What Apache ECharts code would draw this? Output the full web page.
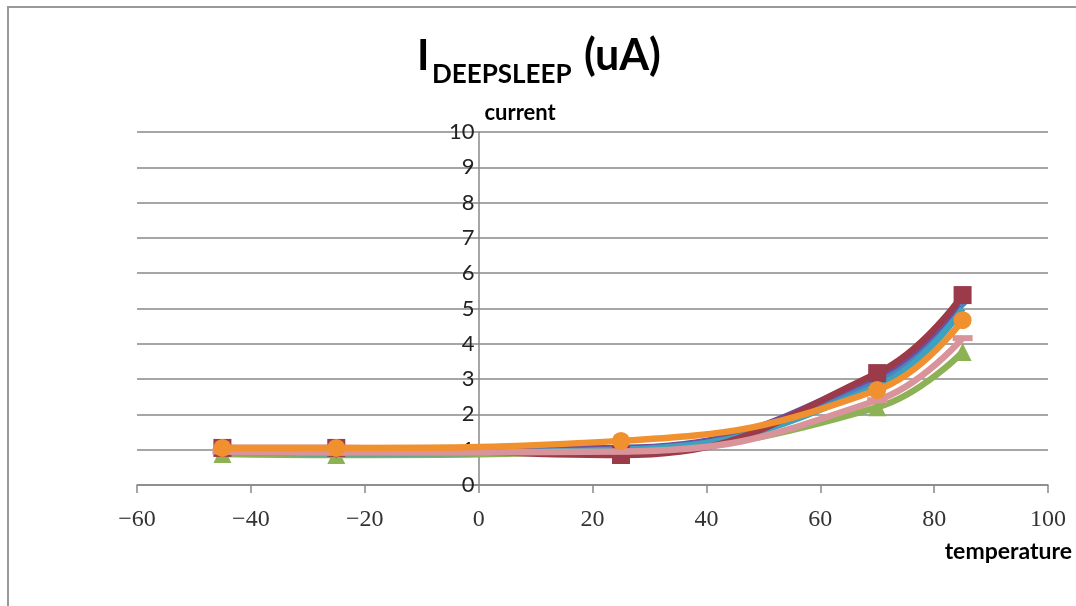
<!DOCTYPE html>
<html><head><meta charset="utf-8">
<script src="https://cdn.jsdelivr.net/npm/echarts@6/dist/echarts.min.js"></script>
<style>html,body{margin:0;padding:0;background:#fff}#c{width:1076px;height:606px}</style>
</head><body><div id="c"></div>
<script>
var temps = [-45, -25, 25, 70, 85];
var blueVals   = [1.00, 0.95, 1.00, 2.95, 5.20];
var maroonVals = [1.05, 1.05, 0.85, 3.17, 5.38];
var greenVals  = [0.88, 0.85, 1.00, 2.20, 3.77];
var purpleVals = [1.05, 1.02, 1.05, 3.10, 5.30];
var tealVals   = [0.95, 0.90, 1.00, 2.80, 5.00];
var pinkVals   = [0.95, 0.92, 0.95, 2.40, 4.16];
var orangeVals = [1.05, 1.05, 1.25, 2.69, 4.67];

function pts(v){ return temps.map(function(t,i){ return [t, v[i]]; }); }
function ser(name, vals, color, symbol, size, z){
  return {name:name, type:'line', smooth:0.45, data:pts(vals),
    symbol:symbol, symbolSize:size, showSymbol: symbol!=='none', z:z,
    lineStyle:{color:color, width:6.5}, itemStyle:{color:color}};
}
var chart = echarts.init(document.getElementById('c'));
chart.setOption({
  animation:false,
  grid:{left:137, right:28, top:132, bottom:121},
  graphic:[
    {type:'rect', shape:{x:8, y:7, width:1100, height:700}, style:{fill:'none', stroke:'#999', lineWidth:2}, silent:true},
    {type:'text', left:417, top:35, style:{text:'I', font:'bold 42px Lato', fill:'#000'}},
    {type:'text', left:432, top:62, style:{text:'DEEPSLEEP', font:'bold 26px Lato', fill:'#000'}},
    {type:'text', left:584, top:35, style:{text:'(uA)', font:'bold 43px Lato', fill:'#000'}}
  ],
  xAxis:{type:'value', min:-60, max:100, interval:20,
    name:'temperature', nameLocation:'end', nameGap:0,
    nameTextStyle:{fontFamily:'Lato', fontWeight:'bold', fontSize:23, color:'#000', align:'right', verticalAlign:'top', padding:[55,-24,0,0]},
    axisLine:{onZero:false, lineStyle:{color:'#888', width:1.5}},
    axisTick:{show:true, length:8, lineStyle:{color:'#888', width:1.5}},
    axisLabel:{fontFamily:'Liberation Serif', fontSize:24, color:'#333', margin:23,
      formatter:function(v){ return v<0 ? '\u2212'+Math.abs(v) : String(v); }},
    splitLine:{show:false}},
  yAxis:{type:'value', min:0, max:10, interval:1, offset:-341.5,
    name:'current', nameLocation:'end', nameGap:8,
    nameTextStyle:{fontFamily:'Lato', fontWeight:'bold', fontSize:22, color:'#000', align:'left', padding:[0,0,0,6]},
    axisLine:{show:true, onZero:false, lineStyle:{color:'#888', width:1.5}},
    axisTick:{show:false},
    axisLabel:{fontFamily:'Lato', fontSize:22, color:'#222', margin:4},
    splitLine:{show:true, lineStyle:{color:'#888', width:1.5}}},
  series:[
    ser('s1', blueVals, '#4F81BD', 'diamond', 14, 3),
    ser('s2', maroonVals, '#9B3B4A', 'rect', 18, 4),
    ser('s3', greenVals, '#8DB255', 'triangle', 18, 2),
    ser('s4', purpleVals, '#6E4E9E', 'none', 0, 3),
    ser('s5', tealVals, '#3DA2BF', 'none', 0, 3),
    ser('s6', pinkVals, '#D9939A', 'rect', [20,6], 5),
    ser('s7', orangeVals, '#F0902F', 'circle', 18, 6)
  ]
});
</script></body></html>
